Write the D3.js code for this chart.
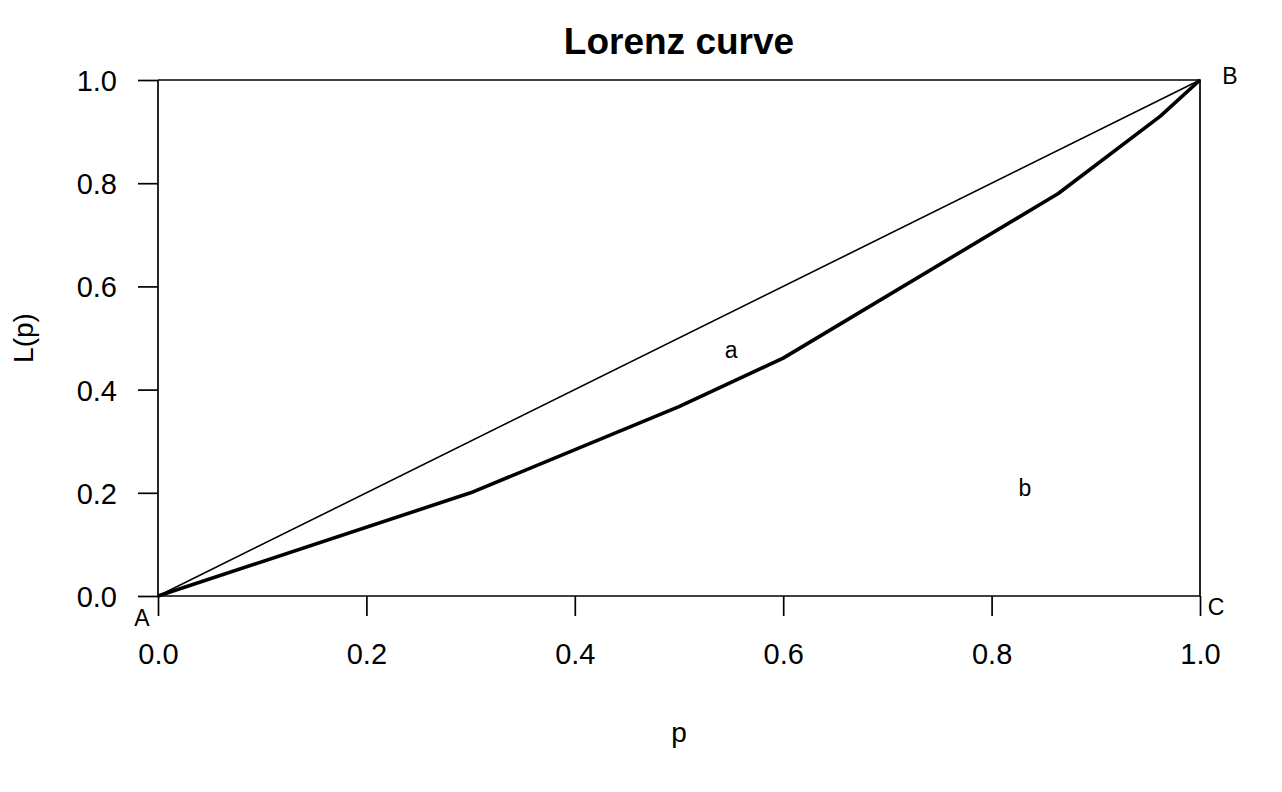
<!DOCTYPE html>
<html>
<head>
<meta charset="utf-8">
<script src="https://cdn.jsdelivr.net/npm/d3@7"></script>
<style>
  body { margin: 0; background: #fff; }
  text { font-family: "Liberation Sans", Arial, sans-serif; fill: #000; }
</style>
</head>
<body>
<svg id="chart" width="1282" height="792"></svg>
<script>
// Lorenz curve vertices
const pValues = [0, 0.3, 0.5, 0.6, 0.864, 0.962, 1];
const lValues = [0, 0.2, 0.367, 0.461, 0.78, 0.93, 1];
const tickValues = [0, 0.2, 0.4, 0.6, 0.8, 1];
const cornerLabels = [
  { name: "A", p: 0, l: 0 },
  { name: "B", p: 1, l: 1 },
  { name: "C", p: 1, l: 0 }
];
const areaLabels = [
  { name: "a", p: 0.55, l: 0.475 },
  { name: "b", p: 0.832, l: 0.208 }
];

var margin = { top: 80, right: 82, bottom: 196, left: 158 },
  width = 1282 - margin.left - margin.right,
  height = 792 - margin.top - margin.bottom;

const svg = d3.select("#chart")
  .append("g")
  .attr("transform", `translate(${margin.left}, ${margin.top})`);

var x = d3.scaleLinear().domain([0, 1]).range([0, width]);
var y = d3.scaleLinear().domain([0, 1]).range([height, 0]);

// axes, R style
const xAxis = svg.append("g")
  .attr("transform", "translate(0," + height + ")")
  .call(d3.axisBottom(x).tickValues(tickValues).tickFormat(d3.format(".1f")).tickSize(20).tickPadding(27));
const yAxis = svg.append("g")
  .call(d3.axisLeft(y).tickValues(tickValues).tickFormat(d3.format(".1f")).tickSize(20).tickPadding(21));
[xAxis, yAxis].forEach(a => {
  a.select(".domain").attr("stroke-width", 1.7).attr("d", a === xAxis ? `M0,0H${width}` : `M0,0V${height}`);
  a.selectAll(".tick line").attr("stroke-width", 1.7);
  a.selectAll(".tick text").style("font-size", "29px").style("font-family", "Liberation Sans, Arial, sans-serif");
});
yAxis.selectAll(".tick text").attr("dy", "0.36em");

// triangle sides: top and right edges
svg.append("path")
  .attr("d", `M${x(0)},${y(1)}H${x(1)}V${y(0)}`)
  .attr("fill", "none")
  .attr("stroke", "#000")
  .attr("stroke-width", 1.7);

// line of equality
svg.append("line")
  .attr("x1", x(0)).attr("y1", y(0))
  .attr("x2", x(1)).attr("y2", y(1))
  .attr("stroke", "#000")
  .attr("stroke-width", 1.6);

// Lorenz curve
const points = pValues.map((p, i) => [p, lValues[i]]);
svg.append("path")
  .datum(points)
  .attr("d", d3.line().x(d => x(d[0])).y(d => y(d[1])))
  .attr("fill", "none")
  .attr("stroke", "#000")
  .attr("stroke-width", 3.6)
  .attr("stroke-linejoin", "round");

// corner labels
const cornerOffsets = { A: [-16, 22], B: [30, -4], C: [16, 11] };
svg.selectAll(".corner")
  .data(cornerLabels)
  .enter()
  .append("text")
  .attr("x", d => x(d.p) + cornerOffsets[d.name][0])
  .attr("y", d => y(d.l) + cornerOffsets[d.name][1])
  .attr("text-anchor", "middle")
  .attr("dy", "0.36em")
  .style("font-size", "23px")
  .text(d => d.name);

svg.selectAll(".area")
  .data(areaLabels)
  .enter()
  .append("text")
  .attr("x", d => x(d.p))
  .attr("y", d => y(d.l))
  .attr("text-anchor", "middle")
  .attr("dy", "0.3em")
  .style("font-size", "23px")
  .text(d => d.name);

// title and axis labels
d3.select("#chart").append("text")
  .attr("x", margin.left + width / 2).attr("y", 54)
  .attr("text-anchor", "middle")
  .style("font-size", "37px").style("font-weight", "bold")
  .text("Lorenz curve");

d3.select("#chart").append("text")
  .attr("x", margin.left + width / 2).attr("y", 742)
  .attr("text-anchor", "middle")
  .style("font-size", "28px")
  .text("p");

d3.select("#chart").append("text")
  .attr("transform", `translate(33, ${margin.top + height / 2}) rotate(-90)`)
  .attr("text-anchor", "middle")
  .style("font-size", "28px")
  .text("L(p)");
</script>
</body>
</html>
